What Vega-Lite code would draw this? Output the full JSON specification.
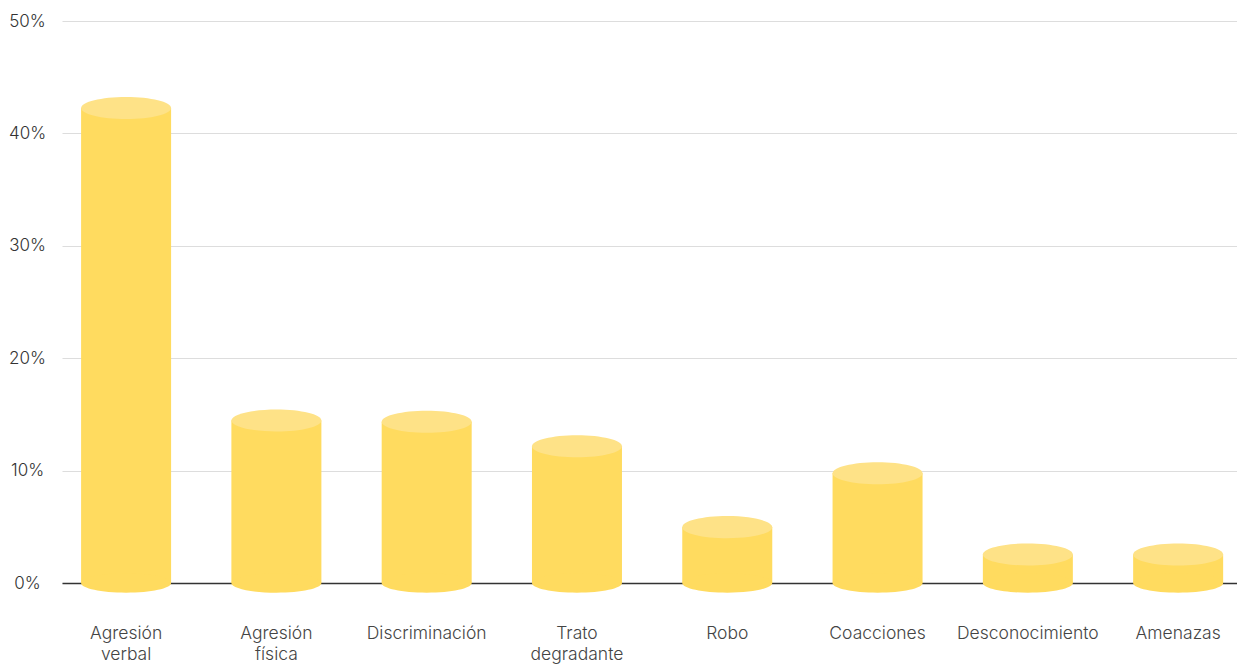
{
  "$schema": "https://vega.github.io/schema/vega-lite/v6.json",
  "autosize": "none",
  "width": 1175,
  "height": 562,
  "padding": {"left": 62, "top": 21, "right": 0, "bottom": 83},
  "background": "white",
  "config": {
    "view": {"stroke": null},
    "font": "Inter",
    "axis": {"labelFont": "Inter", "labelFontWeight": 300}
  },
  "data": {
    "values": [
      {"categoria": "Agresión verbal", "valor": 0.4226},
      {"categoria": "Agresión física", "valor": 0.1446},
      {"categoria": "Discriminación", "valor": 0.1435},
      {"categoria": "Trato degradante", "valor": 0.1217},
      {"categoria": "Robo", "valor": 0.0497},
      {"categoria": "Coacciones", "valor": 0.0976},
      {"categoria": "Desconocimiento", "valor": 0.0254},
      {"categoria": "Amenazas", "valor": 0.0254}
    ]
  },
  "encoding": {
    "x": {
      "field": "categoria",
      "type": "nominal",
      "sort": null,
      "title": null,
      "scale": {"paddingInner": 0.4, "paddingOuter": 0.109, "align": 0.58},
      "axis": {
        "labelAngle": 0,
        "labelExpr": "split(datum.value, ' ')",
        "labelPadding": 41,
        "labelFontSize": 17.5,
        "labelColor": "#444444",
        "labelLineHeight": 21,
        "labelBaseline": "top",
        "ticks": false,
        "domainColor": "#333333",
        "domainWidth": 1.5,
        "grid": false
      }
    }
  },
  "layer": [
    {
      "mark": {"type": "bar", "color": "#FFDB5F", "size": 90},
      "encoding": {
        "y": {
          "field": "valor",
          "type": "quantitative",
          "title": null,
          "scale": {"domain": [0, 0.5], "nice": false},
          "axis": {
            "values": [0, 0.1, 0.2, 0.3, 0.4, 0.5],
            "format": ".0%",
            "labelAlign": "center",
            "labelPadding": 35,
            "labelFontSize": 17,
            "labelColor": "#333333",
            "ticks": false,
            "domain": false,
            "gridColor": "#DDDDDD",
            "gridWidth": 1
          }
        }
      }
    },
    {
      "mark": {
        "type": "point",
        "shape": "M-1,0 A1,0.215 0 1,0 1,0 A1,0.215 0 1,0 -1,0 Z",
        "filled": true,
        "opacity": 1,
        "color": "#FFDB5F",
        "strokeWidth": 0,
        "size": 8100
      },
      "encoding": {
        "y": {"datum": 0, "type": "quantitative"}
      }
    },
    {
      "mark": {
        "type": "point",
        "shape": "M-1,0 A1,0.245 0 1,0 1,0 A1,0.245 0 1,0 -1,0 Z",
        "filled": true,
        "opacity": 1,
        "color": "#FEE287",
        "strokeWidth": 0,
        "size": 8100
      },
      "encoding": {
        "y": {"field": "valor", "type": "quantitative"}
      }
    }
  ]
}
